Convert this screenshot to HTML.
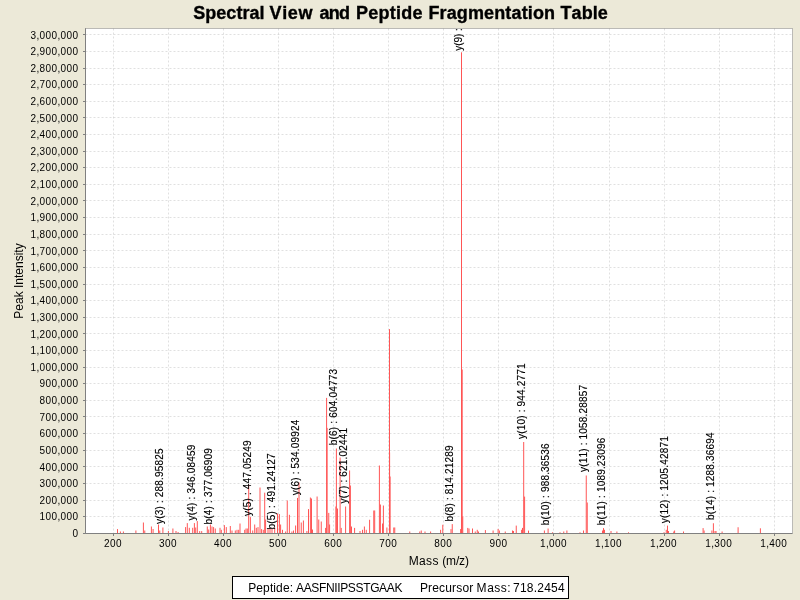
<!DOCTYPE html>
<html><head><meta charset="utf-8"><title>Spectral View and Peptide Fragmentation Table</title>
<style>
html,body{margin:0;padding:0;background:#ece9d8;}
body{width:800px;height:600px;overflow:hidden;font-family:"Liberation Sans",sans-serif;}
svg{display:block}
text{font-family:"Liberation Sans",sans-serif;fill:#000;white-space:pre}
.tk{font-size:10px}
.an{font-size:10px;stroke:#000;stroke-width:0.15px}
.ax{font-size:12px}
.ti{font-size:18px;font-weight:bold;stroke:#000;stroke-width:0.35px}
</style></head><body>
<svg width="800" height="600" viewBox="0 0 800 600">
<rect x="0" y="0" width="800" height="600" fill="#ece9d8"/>
<rect x="85.5" y="28.5" width="707.0" height="505.0" fill="#fff"/>
<clipPath id="cp"><rect x="85.5" y="28.5" width="707.0" height="505.0"/></clipPath>
<g stroke="#c0c0c0" stroke-width="0.5" stroke-dasharray="2 2" fill="none">
<line x1="113.5" y1="28.5" x2="113.5" y2="533.5"/><line x1="168.5" y1="28.5" x2="168.5" y2="533.5"/><line x1="223.5" y1="28.5" x2="223.5" y2="533.5"/><line x1="278.5" y1="28.5" x2="278.5" y2="533.5"/><line x1="333.5" y1="28.5" x2="333.5" y2="533.5"/><line x1="388.5" y1="28.5" x2="388.5" y2="533.5"/><line x1="443.5" y1="28.5" x2="443.5" y2="533.5"/><line x1="498.5" y1="28.5" x2="498.5" y2="533.5"/><line x1="553.5" y1="28.5" x2="553.5" y2="533.5"/><line x1="609.5" y1="28.5" x2="609.5" y2="533.5"/><line x1="664.5" y1="28.5" x2="664.5" y2="533.5"/><line x1="719.5" y1="28.5" x2="719.5" y2="533.5"/><line x1="774.5" y1="28.5" x2="774.5" y2="533.5"/>
<line x1="85.5" y1="533.5" x2="792.5" y2="533.5"/><line x1="85.5" y1="516.5" x2="792.5" y2="516.5"/><line x1="85.5" y1="500.5" x2="792.5" y2="500.5"/><line x1="85.5" y1="483.5" x2="792.5" y2="483.5"/><line x1="85.5" y1="466.5" x2="792.5" y2="466.5"/><line x1="85.5" y1="450.5" x2="792.5" y2="450.5"/><line x1="85.5" y1="433.5" x2="792.5" y2="433.5"/><line x1="85.5" y1="416.5" x2="792.5" y2="416.5"/><line x1="85.5" y1="400.5" x2="792.5" y2="400.5"/><line x1="85.5" y1="383.5" x2="792.5" y2="383.5"/><line x1="85.5" y1="367.5" x2="792.5" y2="367.5"/><line x1="85.5" y1="350.5" x2="792.5" y2="350.5"/><line x1="85.5" y1="333.5" x2="792.5" y2="333.5"/><line x1="85.5" y1="317.5" x2="792.5" y2="317.5"/><line x1="85.5" y1="300.5" x2="792.5" y2="300.5"/><line x1="85.5" y1="284.5" x2="792.5" y2="284.5"/><line x1="85.5" y1="267.5" x2="792.5" y2="267.5"/><line x1="85.5" y1="250.5" x2="792.5" y2="250.5"/><line x1="85.5" y1="234.5" x2="792.5" y2="234.5"/><line x1="85.5" y1="217.5" x2="792.5" y2="217.5"/><line x1="85.5" y1="200.5" x2="792.5" y2="200.5"/><line x1="85.5" y1="184.5" x2="792.5" y2="184.5"/><line x1="85.5" y1="167.5" x2="792.5" y2="167.5"/><line x1="85.5" y1="151.5" x2="792.5" y2="151.5"/><line x1="85.5" y1="134.5" x2="792.5" y2="134.5"/><line x1="85.5" y1="117.5" x2="792.5" y2="117.5"/><line x1="85.5" y1="101.5" x2="792.5" y2="101.5"/><line x1="85.5" y1="84.5" x2="792.5" y2="84.5"/><line x1="85.5" y1="68.5" x2="792.5" y2="68.5"/><line x1="85.5" y1="51.5" x2="792.5" y2="51.5"/><line x1="85.5" y1="34.5" x2="792.5" y2="34.5"/></g>
<g stroke="#ff5555" stroke-width="1" fill="none" clip-path="url(#cp)">
<line x1="117.5" y1="533.5" x2="117.5" y2="529.1"/><line x1="120.4" y1="533.5" x2="120.4" y2="531.5"/><line x1="123.4" y1="533.5" x2="123.4" y2="531.5"/><line x1="135.9" y1="533.5" x2="135.9" y2="530.5"/><line x1="143.4" y1="533.5" x2="143.4" y2="522.5"/><line x1="144.75" y1="533.5" x2="144.75" y2="530.5"/><line x1="151.4" y1="533.5" x2="151.4" y2="526.5"/><line x1="153.1" y1="533.5" x2="153.1" y2="529"/><line x1="158.5" y1="533.5" x2="158.5" y2="524.5"/><line x1="159.75" y1="533.5" x2="159.75" y2="530.5"/><line x1="162.9" y1="533.5" x2="162.9" y2="527.5"/><line x1="168.4" y1="533.5" x2="168.4" y2="531"/><line x1="172.9" y1="533.5" x2="172.9" y2="528.5"/><line x1="176" y1="533.5" x2="176" y2="531"/><line x1="178.1" y1="533.5" x2="178.1" y2="532"/><line x1="185.6" y1="533.5" x2="185.6" y2="527.1"/><line x1="187.3" y1="533.5" x2="187.3" y2="523.1"/><line x1="189.3" y1="533.5" x2="189.3" y2="527.8"/><line x1="192.7" y1="533.5" x2="192.7" y2="527.8"/><line x1="194.4" y1="533.5" x2="194.4" y2="523.1"/><line x1="195.7" y1="533.5" x2="195.7" y2="527.5"/><line x1="197.3" y1="533.5" x2="197.3" y2="521.1"/><line x1="199.7" y1="533.5" x2="199.7" y2="531.1"/><line x1="201.7" y1="533.5" x2="201.7" y2="531.1"/><line x1="207.3" y1="533.5" x2="207.3" y2="526.5"/><line x1="208.7" y1="533.5" x2="208.7" y2="529.5"/><line x1="210.4" y1="533.5" x2="210.4" y2="524.5"/><line x1="212" y1="533.5" x2="212" y2="526.5"/><line x1="213.6" y1="533.5" x2="213.6" y2="527.1"/><line x1="215.3" y1="533.5" x2="215.3" y2="528.5"/><line x1="220" y1="533.5" x2="220" y2="527.8"/><line x1="221.3" y1="533.5" x2="221.3" y2="529.8"/><line x1="224.4" y1="533.5" x2="224.4" y2="525.1"/><line x1="226.3" y1="533.5" x2="226.3" y2="527.1"/><line x1="230.3" y1="533.5" x2="230.3" y2="526"/><line x1="232" y1="533.5" x2="232" y2="530.5"/><line x1="235.3" y1="533.5" x2="235.3" y2="530.5"/><line x1="237" y1="533.5" x2="237" y2="529.8"/><line x1="238.7" y1="533.5" x2="238.7" y2="529.8"/><line x1="240" y1="533.5" x2="240" y2="523.5"/><line x1="244.7" y1="533.5" x2="244.7" y2="529.8"/><line x1="246" y1="533.5" x2="246" y2="528.5"/><line x1="247.3" y1="533.5" x2="247.3" y2="528.5"/><line x1="248.7" y1="533.5" x2="248.7" y2="484.5"/><line x1="250.4" y1="533.5" x2="250.4" y2="517.1"/><line x1="252.7" y1="533.5" x2="252.7" y2="530.5"/><line x1="254.7" y1="533.5" x2="254.7" y2="524.5"/><line x1="256.3" y1="533.5" x2="256.3" y2="527.8"/><line x1="258" y1="533.5" x2="258" y2="527.1"/><line x1="260" y1="533.5" x2="260" y2="487.5"/><line x1="261.6" y1="533.5" x2="261.6" y2="529.1"/><line x1="263.3" y1="533.5" x2="263.3" y2="529.8"/><line x1="264.7" y1="533.5" x2="264.7" y2="492.7"/><line x1="265.6" y1="533.5" x2="265.6" y2="519.5"/><line x1="268" y1="533.5" x2="268" y2="528.5"/><line x1="270" y1="533.5" x2="270" y2="527.8"/><line x1="272" y1="533.5" x2="272" y2="528.5"/><line x1="274.7" y1="533.5" x2="274.7" y2="527.8"/><line x1="277.5" y1="533.5" x2="277.5" y2="513.5"/><line x1="279.4" y1="533.5" x2="279.4" y2="514.1"/><line x1="280.6" y1="533.5" x2="280.6" y2="524.5"/><line x1="282.5" y1="533.5" x2="282.5" y2="529.8"/><line x1="285.6" y1="533.5" x2="285.6" y2="531.5"/><line x1="287.25" y1="533.5" x2="287.25" y2="500.5"/><line x1="289.4" y1="533.5" x2="289.4" y2="514.8"/><line x1="291.9" y1="533.5" x2="291.9" y2="531.5"/><line x1="293.5" y1="533.5" x2="293.5" y2="530.5"/><line x1="295.6" y1="533.5" x2="295.6" y2="525.5"/><line x1="297.5" y1="533.5" x2="297.5" y2="497.9"/><line x1="299" y1="533.5" x2="299" y2="482.5"/><line x1="301.25" y1="533.5" x2="301.25" y2="522.5"/><line x1="303.4" y1="533.5" x2="303.4" y2="520.5"/><line x1="306.9" y1="533.5" x2="306.9" y2="531"/><line x1="308.5" y1="533.5" x2="308.5" y2="509.1"/><line x1="310.4" y1="533.5" x2="310.4" y2="497.5"/><line x1="311.5" y1="533.5" x2="311.5" y2="498.5"/><line x1="312.5" y1="533.5" x2="312.5" y2="529.5"/><line x1="317.1" y1="533.5" x2="317.1" y2="496.5"/><line x1="318.75" y1="533.5" x2="318.75" y2="519.5"/><line x1="321.25" y1="533.5" x2="321.25" y2="521.5"/><line x1="325.6" y1="533.5" x2="325.6" y2="527.9"/><line x1="326.6" y1="533.5" x2="326.6" y2="397.9"/><line x1="327.1" y1="533.5" x2="327.1" y2="427.9"/><line x1="328.75" y1="533.5" x2="328.75" y2="512.9"/><line x1="329.6" y1="533.5" x2="329.6" y2="524.5"/><line x1="335.9" y1="533.5" x2="335.9" y2="506.5"/><line x1="336.4" y1="533.5" x2="336.4" y2="448.5"/><line x1="337.5" y1="533.5" x2="337.5" y2="508.5"/><line x1="340.1" y1="533.5" x2="340.1" y2="457.5"/><line x1="341.25" y1="533.5" x2="341.25" y2="527.9"/><line x1="345.6" y1="533.5" x2="345.6" y2="506.5"/><line x1="349.6" y1="533.5" x2="349.6" y2="470.5"/><line x1="350.4" y1="533.5" x2="350.4" y2="485.5"/><line x1="351.5" y1="533.5" x2="351.5" y2="526.5"/><line x1="354.6" y1="533.5" x2="354.6" y2="527.9"/><line x1="360" y1="533.5" x2="360" y2="531"/><line x1="362.5" y1="533.5" x2="362.5" y2="529.8"/><line x1="364.4" y1="533.5" x2="364.4" y2="526.5"/><line x1="366.25" y1="533.5" x2="366.25" y2="529.8"/><line x1="369.6" y1="533.5" x2="369.6" y2="519.75"/><line x1="373.75" y1="533.5" x2="373.75" y2="510.5"/><line x1="374.7" y1="533.5" x2="374.7" y2="510.5"/><line x1="379.4" y1="533.5" x2="379.4" y2="465.5"/><line x1="380.4" y1="533.5" x2="380.4" y2="504.5"/><line x1="382.5" y1="533.5" x2="382.5" y2="523.5"/><line x1="383.4" y1="533.5" x2="383.4" y2="505.5"/><line x1="386.9" y1="533.5" x2="386.9" y2="527.5"/><line x1="389.5" y1="533.5" x2="389.5" y2="329.1"/><line x1="389.6" y1="533.5" x2="389.6" y2="452.5"/><line x1="390.1" y1="533.5" x2="390.1" y2="476.5"/><line x1="393.75" y1="533.5" x2="393.75" y2="527.5"/><line x1="394.75" y1="533.5" x2="394.75" y2="527.5"/><line x1="409.75" y1="533.5" x2="409.75" y2="531.5"/><line x1="419.75" y1="533.5" x2="419.75" y2="531.5"/><line x1="421.25" y1="533.5" x2="421.25" y2="530.5"/><line x1="425" y1="533.5" x2="425" y2="531.5"/><line x1="430.6" y1="533.5" x2="430.6" y2="531.5"/><line x1="440.6" y1="533.5" x2="440.6" y2="529.8"/><line x1="442.75" y1="533.5" x2="442.75" y2="524.75"/><line x1="451" y1="533.5" x2="451" y2="529.1"/><line x1="452.25" y1="533.5" x2="452.25" y2="524.1"/><line x1="460.6" y1="533.5" x2="460.6" y2="529.1"/><line x1="461.5" y1="533.5" x2="461.5" y2="52.3"/><line x1="462.2" y1="533.5" x2="462.2" y2="369.5"/><line x1="462.75" y1="533.5" x2="462.75" y2="516.5"/><line x1="467.75" y1="533.5" x2="467.75" y2="527.9"/><line x1="469" y1="533.5" x2="469" y2="528.5"/><line x1="472.5" y1="533.5" x2="472.5" y2="528.5"/><line x1="475.25" y1="533.5" x2="475.25" y2="531.5"/><line x1="477.25" y1="533.5" x2="477.25" y2="529.8"/><line x1="478.5" y1="533.5" x2="478.5" y2="531.5"/><line x1="485.4" y1="533.5" x2="485.4" y2="530.1"/><line x1="493.1" y1="533.5" x2="493.1" y2="530.5"/><line x1="498.1" y1="533.5" x2="498.1" y2="528.9"/><line x1="499.4" y1="533.5" x2="499.4" y2="530.5"/><line x1="505.25" y1="533.5" x2="505.25" y2="531.5"/><line x1="512.5" y1="533.5" x2="512.5" y2="530.5"/><line x1="513.5" y1="533.5" x2="513.5" y2="531"/><line x1="516.25" y1="533.5" x2="516.25" y2="525.6"/><line x1="521.6" y1="533.5" x2="521.6" y2="529.8"/><line x1="522.5" y1="533.5" x2="522.5" y2="527.9"/><line x1="523.7" y1="533.5" x2="523.7" y2="442"/><line x1="524.6" y1="533.5" x2="524.6" y2="496.6"/><line x1="528.5" y1="533.5" x2="528.5" y2="530.6"/><line x1="544.4" y1="533.5" x2="544.4" y2="530.5"/><line x1="548.1" y1="533.5" x2="548.1" y2="528.5"/><line x1="552.5" y1="533.5" x2="552.5" y2="532.3"/><line x1="560" y1="533.5" x2="560" y2="532.3"/><line x1="563.75" y1="533.5" x2="563.75" y2="531.5"/><line x1="566.9" y1="533.5" x2="566.9" y2="530.5"/><line x1="580" y1="533.5" x2="580" y2="532.3"/><line x1="583.5" y1="533.5" x2="583.5" y2="530.5"/><line x1="586.25" y1="533.5" x2="586.25" y2="475.5"/><line x1="587.25" y1="533.5" x2="587.25" y2="502.5"/><line x1="602.5" y1="533.5" x2="602.5" y2="530.5"/><line x1="603.5" y1="533.5" x2="603.5" y2="528.1"/><line x1="604.5" y1="533.5" x2="604.5" y2="529.8"/><line x1="611" y1="533.5" x2="611" y2="531"/><line x1="616.9" y1="533.5" x2="616.9" y2="531.5"/><line x1="628.5" y1="533.5" x2="628.5" y2="532.3"/><line x1="664" y1="533.5" x2="664" y2="532.3"/><line x1="666.25" y1="533.5" x2="666.25" y2="529.8"/><line x1="667.5" y1="533.5" x2="667.5" y2="525.6"/><line x1="668.5" y1="533.5" x2="668.5" y2="531"/><line x1="673.75" y1="533.5" x2="673.75" y2="531.5"/><line x1="674.6" y1="533.5" x2="674.6" y2="530.5"/><line x1="683.5" y1="533.5" x2="683.5" y2="531.5"/><line x1="703.1" y1="533.5" x2="703.1" y2="528.1"/><line x1="704.1" y1="533.5" x2="704.1" y2="530.5"/><line x1="711.9" y1="533.5" x2="711.9" y2="530.5"/><line x1="713.4" y1="533.5" x2="713.4" y2="523.25"/><line x1="715" y1="533.5" x2="715" y2="531"/><line x1="716" y1="533.5" x2="716" y2="531"/><line x1="722.1" y1="533.5" x2="722.1" y2="531.5"/><line x1="738.1" y1="533.5" x2="738.1" y2="527.25"/><line x1="760.4" y1="533.5" x2="760.4" y2="528.3"/></g>
<g class="an" clip-path="url(#cp)">
<text transform="translate(163.2 524) rotate(-90)" x="0 5.19 8.71 14.46 17.98 20.95 23.92 26.89 32.64 38.39 44.14 47.11 52.86 58.61 64.36 70.12" y="0">y(3) : 288.95825</text>
<text transform="translate(195.25 520.4) rotate(-90)" x="0 5.19 8.71 14.46 17.98 20.95 23.92 26.89 32.64 38.39 44.14 47.11 52.86 58.61 64.36 70.12" y="0">y(4) : 346.08459</text>
<text transform="translate(212.31 524.5) rotate(-90)" x="0 5.75 9.27 15.02 18.54 21.51 24.48 27.45 33.2 38.95 44.7 47.67 53.42 59.17 64.93 70.68" y="0">b(4) : 377.06909</text>
<text transform="translate(250.85 516) rotate(-90)" x="0 5.19 8.71 14.46 17.98 20.95 23.92 26.89 32.64 38.39 44.14 47.11 52.86 58.61 64.36 70.12" y="0">y(5) : 447.05249</text>
<text transform="translate(275.19 529.6) rotate(-90)" x="0 5.75 9.27 15.02 18.54 21.51 24.48 27.45 33.2 38.95 44.7 47.67 53.42 59.17 64.93 70.68" y="0">b(5) : 491.24127</text>
<text transform="translate(299 495.3) rotate(-90)" x="0 5.19 8.71 14.46 17.98 20.95 23.92 26.89 32.64 38.39 44.14 47.11 52.86 58.61 64.36 70.12" y="0">y(6) : 534.09924</text>
<text transform="translate(337.31 445.2) rotate(-90)" x="0 5.75 9.27 15.02 18.54 21.51 24.48 27.45 33.2 38.95 44.7 47.67 53.42 59.17 64.93 70.68" y="0">b(6) : 604.04773</text>
<text transform="translate(346.9 503.5) rotate(-90)" x="0 5.19 8.71 14.46 17.98 20.95 23.92 26.89 32.64 38.39 44.14 47.11 52.86 58.61 64.36 70.12" y="0">y(7) : 621.02441</text>
<text transform="translate(453.05 521.6) rotate(-90)" x="0 5.75 9.27 15.02 18.54 21.51 24.48 27.45 33.2 38.95 44.7 47.67 53.42 59.17 64.93 70.68" y="0">b(8) : 814.21289</text>
<text transform="translate(461.75 50.8) rotate(-90)" x="0 4.95 8.23 13.74 17.02 19.75 22.48 25.21 30.72 36.23 41.74 44.47 49.98 55.49 61 66.52" y="0">y(9) : 832.20911</text>
<text transform="translate(524.67 439) rotate(-90)" x="0 5.19 8.71 14.46 20.21 23.73 26.7 29.67 32.64 38.39 44.14 49.89 52.86 58.61 64.36 70.12" y="0">y(10) : 944.2771</text>
<text transform="translate(548.95 525.3) rotate(-90)" x="0 5.75 9.27 15.02 20.77 24.29 27.26 30.23 33.2 38.95 44.7 50.45 53.42 59.17 64.93 70.68 76.43" y="0">b(10) : 988.36536</text>
<text transform="translate(587.46 472) rotate(-90)" x="0 5.19 8.71 14.46 20.21 23.73 26.7 29.67 32.64 38.39 44.14 49.89 55.64 58.61 64.36 70.12 75.87 81.62" y="0">y(11) : 1058.28857</text>
<text transform="translate(604.5 525.3) rotate(-90)" x="0 5.75 9.27 15.02 20.77 24.29 27.26 30.23 33.2 38.95 44.7 50.45 56.21 59.17 64.93 70.68 76.43 82.18" y="0">b(11) : 1089.23096</text>
<text transform="translate(668.49 523.3) rotate(-90)" x="0 5.19 8.71 14.46 20.21 23.73 26.7 29.67 32.64 38.39 44.14 49.89 55.64 58.61 64.36 70.12 75.87 81.62" y="0">y(12) : 1205.42871</text>
<text transform="translate(714.16 520.1) rotate(-90)" x="0 5.75 9.27 15.02 20.77 24.29 27.26 30.23 33.2 38.95 44.7 50.45 56.21 59.17 64.93 70.68 76.43 82.18" y="0">b(14) : 1288.36694</text>
</g>
<rect x="85.5" y="28.5" width="707.0" height="505.0" fill="none" stroke="#808080" stroke-width="0.5"/>
<path d="M85.5 28.5V533.5H792.5" fill="none" stroke="#808080" stroke-width="1"/>
<g stroke="#808080" stroke-width="1">
<line x1="83.0" y1="533.5" x2="85.5" y2="533.5"/><line x1="83.0" y1="516.5" x2="85.5" y2="516.5"/><line x1="83.0" y1="500.5" x2="85.5" y2="500.5"/><line x1="83.0" y1="483.5" x2="85.5" y2="483.5"/><line x1="83.0" y1="466.5" x2="85.5" y2="466.5"/><line x1="83.0" y1="450.5" x2="85.5" y2="450.5"/><line x1="83.0" y1="433.5" x2="85.5" y2="433.5"/><line x1="83.0" y1="416.5" x2="85.5" y2="416.5"/><line x1="83.0" y1="400.5" x2="85.5" y2="400.5"/><line x1="83.0" y1="383.5" x2="85.5" y2="383.5"/><line x1="83.0" y1="367.5" x2="85.5" y2="367.5"/><line x1="83.0" y1="350.5" x2="85.5" y2="350.5"/><line x1="83.0" y1="333.5" x2="85.5" y2="333.5"/><line x1="83.0" y1="317.5" x2="85.5" y2="317.5"/><line x1="83.0" y1="300.5" x2="85.5" y2="300.5"/><line x1="83.0" y1="284.5" x2="85.5" y2="284.5"/><line x1="83.0" y1="267.5" x2="85.5" y2="267.5"/><line x1="83.0" y1="250.5" x2="85.5" y2="250.5"/><line x1="83.0" y1="234.5" x2="85.5" y2="234.5"/><line x1="83.0" y1="217.5" x2="85.5" y2="217.5"/><line x1="83.0" y1="200.5" x2="85.5" y2="200.5"/><line x1="83.0" y1="184.5" x2="85.5" y2="184.5"/><line x1="83.0" y1="167.5" x2="85.5" y2="167.5"/><line x1="83.0" y1="151.5" x2="85.5" y2="151.5"/><line x1="83.0" y1="134.5" x2="85.5" y2="134.5"/><line x1="83.0" y1="117.5" x2="85.5" y2="117.5"/><line x1="83.0" y1="101.5" x2="85.5" y2="101.5"/><line x1="83.0" y1="84.5" x2="85.5" y2="84.5"/><line x1="83.0" y1="68.5" x2="85.5" y2="68.5"/><line x1="83.0" y1="51.5" x2="85.5" y2="51.5"/><line x1="83.0" y1="34.5" x2="85.5" y2="34.5"/><line x1="113.5" y1="533.5" x2="113.5" y2="536.0"/><line x1="168.5" y1="533.5" x2="168.5" y2="536.0"/><line x1="223.5" y1="533.5" x2="223.5" y2="536.0"/><line x1="278.5" y1="533.5" x2="278.5" y2="536.0"/><line x1="333.5" y1="533.5" x2="333.5" y2="536.0"/><line x1="388.5" y1="533.5" x2="388.5" y2="536.0"/><line x1="443.5" y1="533.5" x2="443.5" y2="536.0"/><line x1="498.5" y1="533.5" x2="498.5" y2="536.0"/><line x1="553.5" y1="533.5" x2="553.5" y2="536.0"/><line x1="609.5" y1="533.5" x2="609.5" y2="536.0"/><line x1="664.5" y1="533.5" x2="664.5" y2="536.0"/><line x1="719.5" y1="533.5" x2="719.5" y2="536.0"/><line x1="774.5" y1="533.5" x2="774.5" y2="536.0"/></g>
<g class="tk">
<text x="72.5" y="537">0</text>
<text x="39.5 45.5 51.5 57.5 60.5 66.5 72.5" y="520">100,000</text>
<text x="39.5 45.5 51.5 57.5 60.5 66.5 72.5" y="504">200,000</text>
<text x="39.5 45.5 51.5 57.5 60.5 66.5 72.5" y="487">300,000</text>
<text x="39.5 45.5 51.5 57.5 60.5 66.5 72.5" y="471">400,000</text>
<text x="39.5 45.5 51.5 57.5 60.5 66.5 72.5" y="454">500,000</text>
<text x="39.5 45.5 51.5 57.5 60.5 66.5 72.5" y="437">600,000</text>
<text x="39.5 45.5 51.5 57.5 60.5 66.5 72.5" y="421">700,000</text>
<text x="39.5 45.5 51.5 57.5 60.5 66.5 72.5" y="404">800,000</text>
<text x="39.5 45.5 51.5 57.5 60.5 66.5 72.5" y="387">900,000</text>
<text x="30.5 36.5 39.5 45.5 51.5 57.5 60.5 66.5 72.5" y="371">1,000,000</text>
<text x="30.5 36.5 39.5 45.5 51.5 57.5 60.5 66.5 72.5" y="354">1,100,000</text>
<text x="30.5 36.5 39.5 45.5 51.5 57.5 60.5 66.5 72.5" y="338">1,200,000</text>
<text x="30.5 36.5 39.5 45.5 51.5 57.5 60.5 66.5 72.5" y="321">1,300,000</text>
<text x="30.5 36.5 39.5 45.5 51.5 57.5 60.5 66.5 72.5" y="304">1,400,000</text>
<text x="30.5 36.5 39.5 45.5 51.5 57.5 60.5 66.5 72.5" y="288">1,500,000</text>
<text x="30.5 36.5 39.5 45.5 51.5 57.5 60.5 66.5 72.5" y="271">1,600,000</text>
<text x="30.5 36.5 39.5 45.5 51.5 57.5 60.5 66.5 72.5" y="255">1,700,000</text>
<text x="30.5 36.5 39.5 45.5 51.5 57.5 60.5 66.5 72.5" y="238">1,800,000</text>
<text x="30.5 36.5 39.5 45.5 51.5 57.5 60.5 66.5 72.5" y="221">1,900,000</text>
<text x="30.5 36.5 39.5 45.5 51.5 57.5 60.5 66.5 72.5" y="205">2,000,000</text>
<text x="30.5 36.5 39.5 45.5 51.5 57.5 60.5 66.5 72.5" y="188">2,100,000</text>
<text x="30.5 36.5 39.5 45.5 51.5 57.5 60.5 66.5 72.5" y="171">2,200,000</text>
<text x="30.5 36.5 39.5 45.5 51.5 57.5 60.5 66.5 72.5" y="155">2,300,000</text>
<text x="30.5 36.5 39.5 45.5 51.5 57.5 60.5 66.5 72.5" y="138">2,400,000</text>
<text x="30.5 36.5 39.5 45.5 51.5 57.5 60.5 66.5 72.5" y="122">2,500,000</text>
<text x="30.5 36.5 39.5 45.5 51.5 57.5 60.5 66.5 72.5" y="105">2,600,000</text>
<text x="30.5 36.5 39.5 45.5 51.5 57.5 60.5 66.5 72.5" y="88">2,700,000</text>
<text x="30.5 36.5 39.5 45.5 51.5 57.5 60.5 66.5 72.5" y="72">2,800,000</text>
<text x="30.5 36.5 39.5 45.5 51.5 57.5 60.5 66.5 72.5" y="55">2,900,000</text>
<text x="30.5 36.5 39.5 45.5 51.5 57.5 60.5 66.5 72.5" y="39">3,000,000</text>
<text x="103.9 109.9 115.9" y="547">200</text>
<text x="158.97 164.97 170.97" y="547">300</text>
<text x="214.04 220.04 226.04" y="547">400</text>
<text x="269.11 275.11 281.11" y="547">500</text>
<text x="324.18 330.18 336.18" y="547">600</text>
<text x="379.25 385.25 391.25" y="547">700</text>
<text x="434.32 440.32 446.32" y="547">800</text>
<text x="489.39 495.39 501.39" y="547">900</text>
<text x="539.96 545.96 548.96 554.96 560.96" y="547">1,000</text>
<text x="595.03 601.03 604.03 610.03 616.03" y="547">1,100</text>
<text x="650.1 656.1 659.1 665.1 671.1" y="547">1,200</text>
<text x="705.17 711.17 714.17 720.17 726.17" y="547">1,300</text>
<text x="760.24 766.24 769.24 775.24 781.24" y="547">1,400</text>
</g>
<text class="ti" x="193.33 205.35 216.35 226.37 236.39 242.39 249.4 259.42 264.42 269.48 282.14 287.8 298.46 312.46 319.47 328.76 339.04 350.04 356.05 368.31 378.58 389.84 396.09 401.35 412.6 422.62 428.4 439.53 446.66 456.81 467.94 484.08 494.22 505.35 511.48 521.63 527.76 532.89 544.02 555.02 560.5 571.57 581.66 592.73 597.8" y="18.7">Spectral View and Peptide Fragmentation Table</text>
<text class="ax" transform="translate(22.5 281) rotate(-90)" text-anchor="middle">Peak Intensity</text>
<text class="ax" x="408.72 419.06 426.08 432.43 438.43 442.26 446.09 455.93 459.11 464.95" y="564.8">Mass (m/z)</text>
<rect x="232.5" y="576.5" width="336" height="22" fill="#fff" stroke="#000" stroke-width="1"/>
<text class="ax" x="248.22 256.33 263.11 269.89 273.33 276.1 282.88 289.66 293 295.98 303.63 311.28 318.94 325.92 334.23 337.22 340.2 347.85 355.51 363.16 370.14 379.12 386.78 394.43" y="591.7">Peptide: AASFNIIPSSTGAAK</text>
<text class="ax" x="419.92 428.09 432.26 439.1 445.27 452.12 456.29 462.46 469.3 473.3 476.62 487.13 494.32 500.84 507.36 510.7 512.98 519.89 526.79 533.7 537.26 544.17 551.07 557.98" y="591.7">Precursor Mass: 718.2454</text>
</svg>
</body></html>
